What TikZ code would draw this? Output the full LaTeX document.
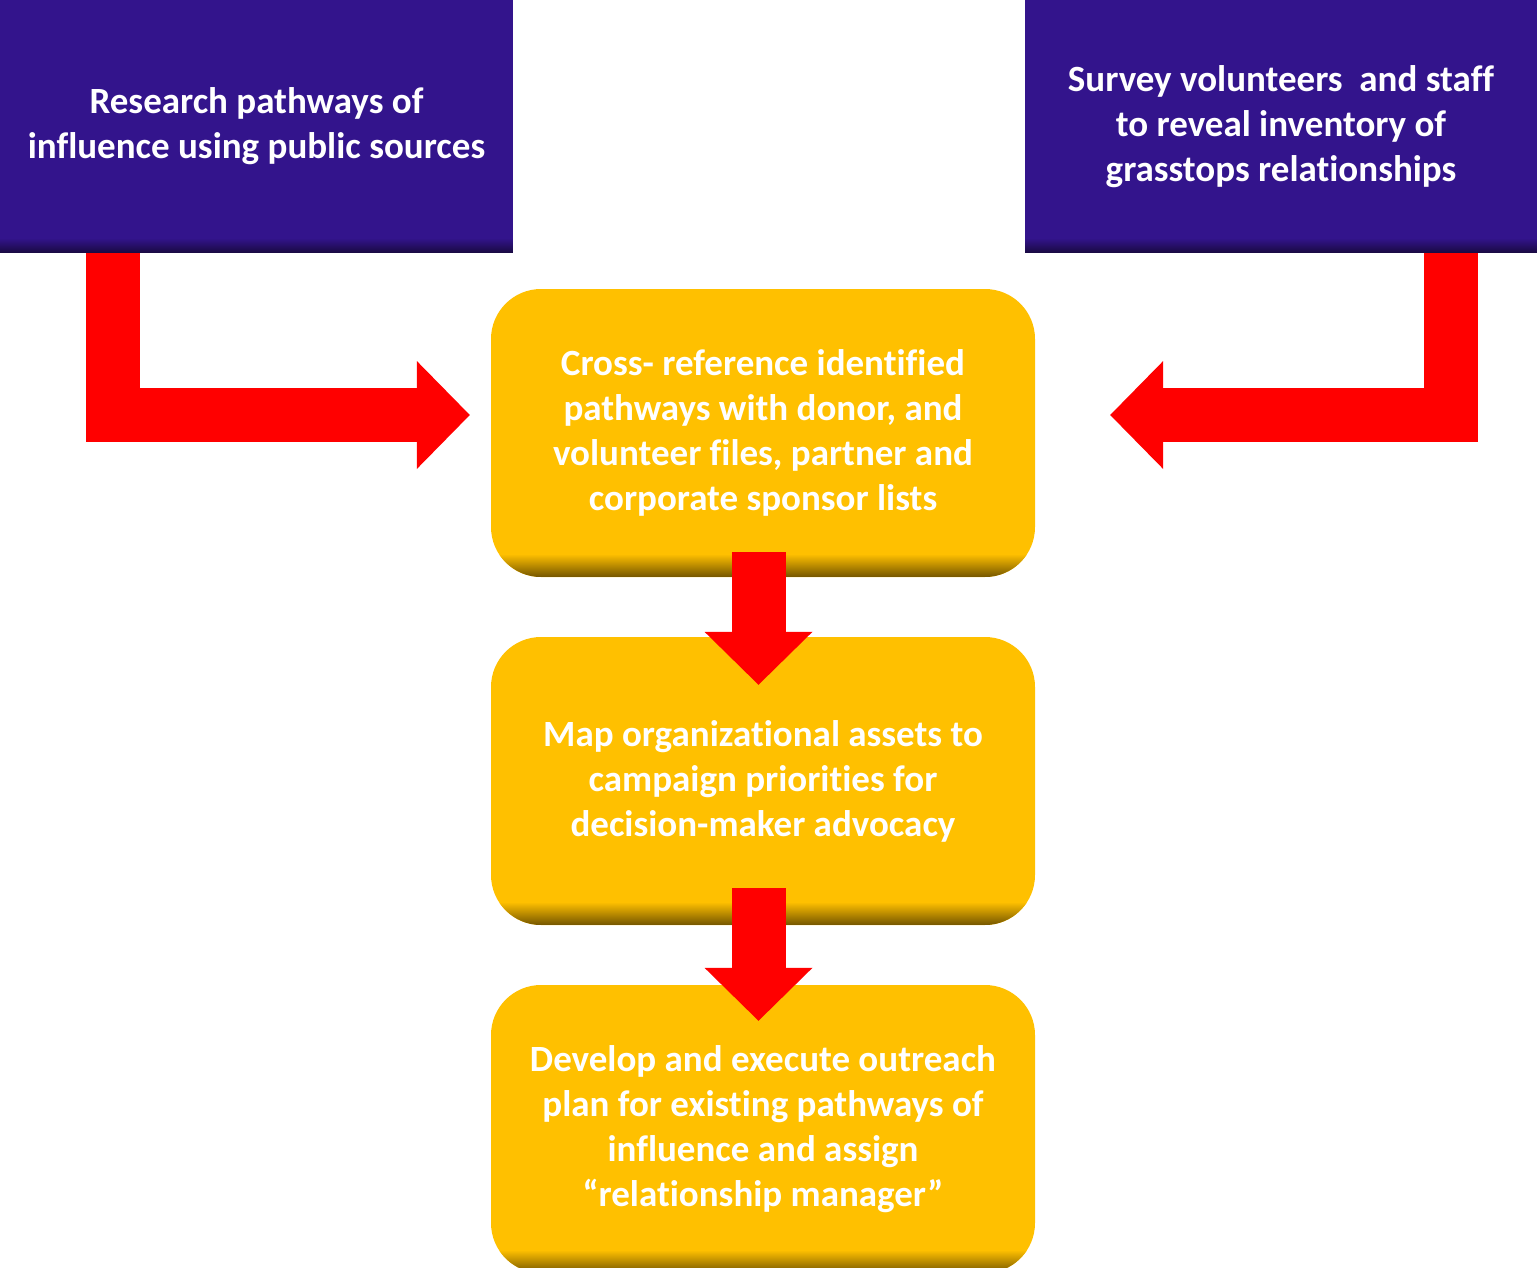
\documentclass[tikz,border=0pt]{standalone}
\usepackage{fontspec}
\setmainfont{Carlito}[Ligatures=NoCommon]
\usetikzlibrary{arrows.meta}
\definecolor{boxblue}{HTML}{33148C}
\definecolor{bluedark}{HTML}{1A0A45}
\definecolor{boxgold}{HTML}{FFC000}
\definecolor{golddark}{HTML}{7A5A00}
\definecolor{arrowred}{HTML}{FF0000}
\begin{document}
\begin{tikzpicture}[x=1pt,y=-1pt,
  txt/.style={text=white, align=center, font=\fontsize{37}{45}\selectfont\bfseries,
    execute at begin node={\rule{0pt}{35pt}}},
  source/.style={txt, rectangle, fill=boxblue, inner sep=0pt, minimum height=253pt,
    path picture={\foreach \k in {0,...,13}{
      \pgfmathsetmacro\p{100-\k*100/14}
      \fill[sharp corners, bluedark!\p!boxblue] ([yshift=\k pt]path picture bounding box.south west)
        rectangle ([yshift=\k pt+1.1pt]path picture bounding box.south east);}}},
  stepbox/.style={txt, rectangle, rounded corners=50pt, fill=boxgold, inner sep=0pt,
    minimum width=544pt, minimum height=288pt,
    path picture={\foreach \k in {0,...,21}{
      \pgfmathsetmacro\p{100-\k*100/22}
      \fill[sharp corners, golddark!\p!boxgold] ([yshift=\k pt]path picture bounding box.south west)
        rectangle ([yshift=\k pt+1.1pt]path picture bounding box.south east);}}},
  bigarrow/.style={color=arrowred, line width=54pt,
    -{Triangle[length=53pt,width=108pt,line width=0pt]}}
]
\useasboundingbox (0,0) rectangle (1537,1268);

\node[source, minimum width=513pt] (r1) at (256.5,126.5)
  {Research pathways of\\influence using public sources};
\node[source, minimum width=512pt] (r2) at (1281,126.5)
  {Survey volunteers\ \ and staff\\to reveal inventory of\\grasstops relationships};

\node[stepbox] (c1) at (763,433)
  {Cross- reference identified\\pathways with donor, and\\volunteer files, partner and\\corporate sponsor lists};
\node[stepbox] (c2) at (763,781)
  {Map organizational assets to\\campaign priorities for\\decision-maker advocacy};
\node[stepbox] (c3) at (763,1129)
  {Develop and execute outreach\\plan for existing pathways of\\influence and assign\\“relationship manager”};

\draw[bigarrow, shorten >=21pt] ([xshift=113pt]r1.south west) |- ([yshift=18pt]c1.west);
\draw[bigarrow, shorten >=75pt] ([xshift=-86pt]r2.south east) |- ([yshift=18pt]c1.east);
\draw[bigarrow, shorten >=-48pt] ([xshift=-4.5pt,yshift=25pt]c1.south) -- ([xshift=-4.5pt]c2.north);
\draw[bigarrow, shorten >=-36pt] ([xshift=-4.5pt,yshift=37pt]c2.south) -- ([xshift=-4.5pt]c3.north);
\end{tikzpicture}
\end{document}
